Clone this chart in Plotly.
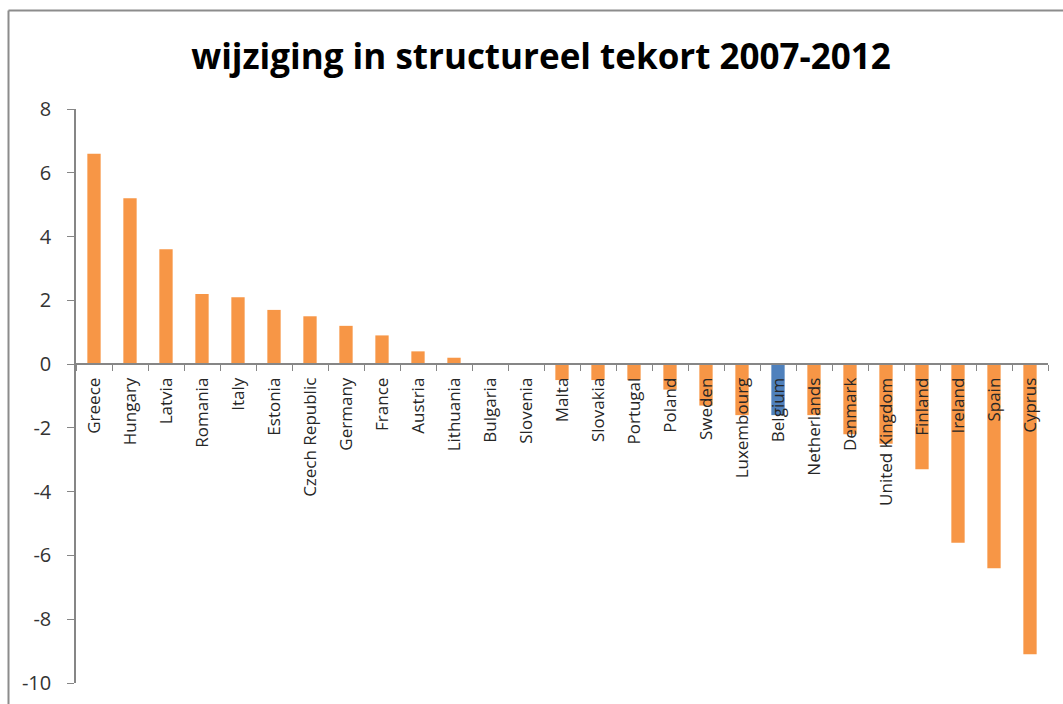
import plotly.graph_objects as go

# Change in structural deficit 2007-2012, per country (percentage points of GDP)
countries = [
    "Greece", "Hungary", "Latvia", "Romania", "Italy", "Estonia",
    "Czech Republic", "Germany", "France", "Austria", "Lithuania",
    "Bulgaria", "Slovenia", "Malta", "Slovakia", "Portugal", "Poland",
    "Sweden", "Luxembourg", "Belgium", "Netherlands", "Denmark",
    "United Kingdom", "Finland", "Ireland", "Spain", "Cyprus",
]
change = [
    6.6, 5.2, 3.6, 2.2, 2.1, 1.7,
    1.5, 1.2, 0.9, 0.4, 0.2,
    0.0, 0.0, -0.5, -0.5, -0.5, -0.8,
    -1.3, -1.6, -1.6, -1.6, -2.2,
    -2.5, -3.3, -5.6, -6.4, -9.1,
]
y_ticks = [8, 6, 4, 2, 0, -2, -4, -6, -8, -10]
highlight = "Belgium"

ORANGE = "#F79646"
BLUE = "#4F81BD"
bar_colors = [BLUE if c == highlight else ORANGE for c in countries]

y_min, y_max = -10, 8

fig = go.Figure(
    go.Bar(
        x=countries,
        y=change,
        marker=dict(color=bar_colors, line=dict(width=0)),
        width=0.37,
        hoverinfo="x+y",
    )
)

font_family = "Open Sans, Liberation Sans, sans-serif"

fig.update_layout(
    width=1063,
    height=704,
    margin=dict(l=76, r=15, t=109, b=21, autoexpand=False),
    paper_bgcolor="white",
    plot_bgcolor="white",
    showlegend=False,
    title=dict(
        text="<b>wijziging in structureel tekort 2007-2012</b>",
        x=0.509,
        xref="container",
        xanchor="center",
        y=1 - 57 / 704,
        yref="container",
        yanchor="middle",
        font=dict(family=font_family, size=35, color="#000000"),
    ),
    xaxis=dict(
        type="category",
        anchor="free",
        position=(0 - y_min) / (y_max - y_min),
        automargin=False,
        showline=True,
        linecolor="#868686",
        linewidth=1.5,
        ticks="outside",
        tickson="boundaries",
        ticklen=6,
        tickcolor="#868686",
        tickangle=-90,
        tickfont=dict(family=font_family, size=17, color="#262626"),
        ticklabelstandoff=6,
        showgrid=False,
        zeroline=False,
        fixedrange=True,
    ),
    yaxis=dict(
        range=[y_min, y_max],
        automargin=False,
        tickmode="array",
        tickvals=y_ticks,
        ticktext=[str(v) for v in y_ticks],
        showline=True,
        linecolor="#868686",
        linewidth=1.5,
        ticks="outside",
        ticklen=7,
        tickcolor="#868686",
        tickfont=dict(family=font_family, size=20, color="#333333"),
        ticklabelstandoff=12,
        showgrid=False,
        zeroline=False,
        fixedrange=True,
    ),
)

# chart frame: top and left edges of the surrounding border
plot_left, plot_right, plot_top, plot_bottom = 76, 1048, 109, 683
pw, ph = plot_right - plot_left, plot_bottom - plot_top
def px_x(v):
    return (v - plot_left) / pw
def px_y(v):
    return (plot_bottom - v) / ph

fig.add_shape(type="line", xref="paper", yref="paper",
              x0=px_x(8.5), x1=px_x(1063), y0=px_y(10.5), y1=px_y(10.5),
              line=dict(color="#8C8C8C", width=2))
fig.add_shape(type="line", xref="paper", yref="paper",
              x0=px_x(8.5), x1=px_x(8.5), y0=px_y(10.5), y1=px_y(704),
              line=dict(color="#8C8C8C", width=2))

fig.write_html("out.html")
